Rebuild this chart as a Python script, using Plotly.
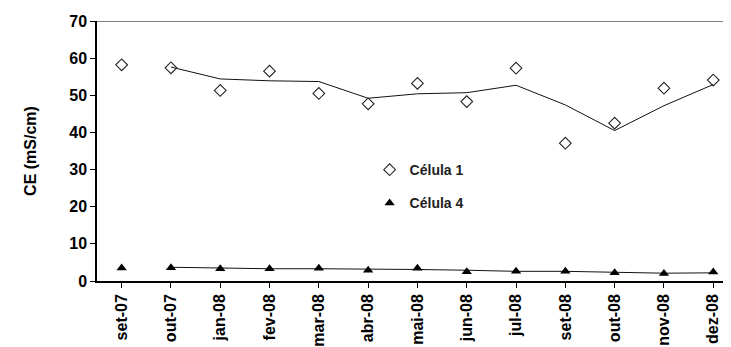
import plotly.graph_objects as go

categories = ["set-07", "out-07", "jan-08", "fev-08", "mar-08", "abr-08", "mai-08",
              "jun-08", "jul-08", "set-08", "out-08", "nov-08", "dez-08"]
celula1 = [58.2, 57.4, 51.3, 56.5, 50.5, 47.7, 53.2, 48.3, 57.3, 37.1, 42.5, 51.9, 54.1]
celula4 = [3.5, 3.6, 3.3, 3.3, 3.4, 2.9, 3.4, 2.5, 2.6, 2.6, 2.2, 2.0, 2.4]
trend1 = [None, 57.6, 54.4, 53.9, 53.7, 49.2, 50.4, 50.7, 52.7, 47.4, 40.5, 47.2, 52.9]
trend4 = [None, 3.7, 3.4, 3.3, 3.3, 3.1, 3.1, 2.9, 2.6, 2.6, 2.4, 2.1, 2.2]
y_ticks = [0, 10, 20, 30, 40, 50, 60, 70]

font = "Liberation Sans, Arial, sans-serif"
xidx = list(range(len(categories)))

fig = go.Figure()
fig.add_trace(go.Scatter(x=xidx, y=trend1, mode="lines", line=dict(color="#111111", width=1),
                         showlegend=False, hoverinfo="skip"))
fig.add_trace(go.Scatter(x=xidx, y=trend4, mode="lines", line=dict(color="#111111", width=1),
                         showlegend=False, hoverinfo="skip"))
fig.add_trace(go.Scatter(x=xidx, y=celula1, mode="markers", name="<b>Célula 1</b>",
                         legendgroup="a",
                         marker=dict(symbol="diamond-open", size=9, color="#222222",
                                     line=dict(width=1.1, color="#222222"))))
fig.add_trace(go.Scatter(x=xidx, y=celula4, mode="markers", name="<b>Célula 4</b>",
                         legendgroup="b",
                         marker=dict(symbol="triangle-up", size=9, color="#000000")))

fig.add_shape(type="line", xref="paper", yref="y", x0=0, x1=1, y0=70, y1=70,
              line=dict(color="#555555", width=1.5))

fig.update_layout(
    width=723, height=339,
    margin=dict(l=89, r=0, t=13, b=66),
    paper_bgcolor="white", plot_bgcolor="white",
    font=dict(family=font, size=12, color="#000000"),
    legend=dict(x=0.43, y=0.488, xanchor="left", yanchor="top",
                bgcolor="rgba(0,0,0,0)", font=dict(family=font, size=14, color="#222222"),
                tracegroupgap=12, itemwidth=30),
    xaxis=dict(
        range=[-0.5, 12.36], tickmode="array", tickvals=xidx,
        ticktext=["<b>%s</b>" % c for c in categories],
        tickangle=-90, ticks="outside", ticklen=5, tickcolor="#000000",
        tickson="boundaries",
        showline=True, linecolor="#000000", linewidth=1.5,
        showgrid=False, zeroline=False,
        tickfont=dict(family=font, size=16, color="#000000"),
    ),
    yaxis=dict(
        range=[0, 70], tickvals=y_ticks, ticktext=["<b>%d</b>" % v for v in y_ticks],
        ticks="outside", ticklen=5, tickcolor="#000000",
        showline=True, linecolor="#000000", linewidth=1.5,
        showgrid=False, zeroline=False,
        tickfont=dict(family=font, size=16, color="#000000"),
        title=dict(text="<b>CE (mS/cm)</b>", font=dict(family=font, size=16, color="#000000"),
                   standoff=29),
    ),
)

fig.write_html("out.html")
